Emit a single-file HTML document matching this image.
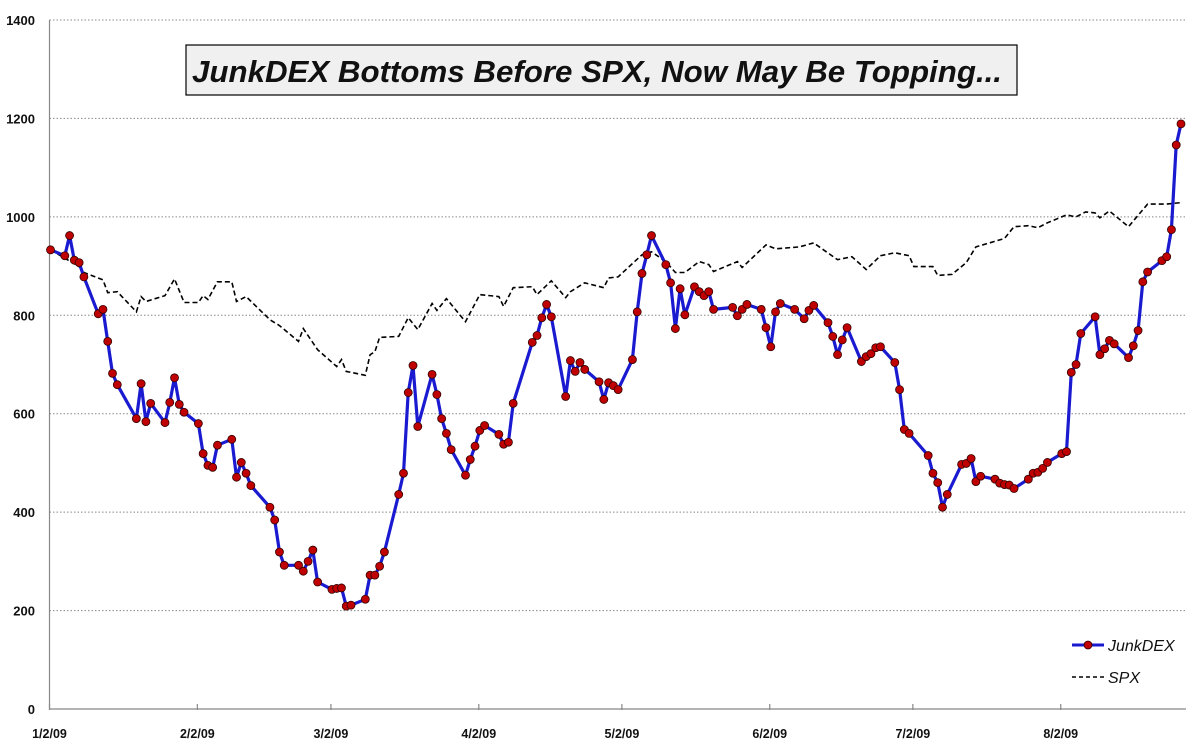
<!DOCTYPE html>
<html><head><meta charset="utf-8">
<style>
html,body{margin:0;padding:0;background:#fff;}
svg{display:block;font-family:"Liberation Sans",sans-serif;}
</style></head>
<body>
<svg id="chart" width="1194" height="745" viewBox="0 0 1194 745" xmlns="http://www.w3.org/2000/svg">
<g id="grid"></g>
<g id="yaxis"></g>
<g id="xaxis"></g>
<g id="series"></g>
<g>
<rect x="186" y="45" width="831" height="50" fill="#f0f0f0" stroke="#000" stroke-width="1.2"/>
<text x="192" y="82" textLength="810" lengthAdjust="spacingAndGlyphs" font-size="31" font-weight="bold" font-style="italic" fill="#111">JunkDEX Bottoms Before SPX, Now May Be Topping...</text>
</g>
<g>
<g>
<line x1="1072" y1="645" x2="1104" y2="645" stroke="#1a1ad0" stroke-width="3"/>
<circle cx="1088" cy="645" r="4" fill="#c00000" stroke="#300" stroke-width="0.8"/>
<text x="1108" y="651" font-size="16" font-style="italic" fill="#111">JunkDEX</text>
</g>
<g>
<line x1="1072" y1="677" x2="1104" y2="677" stroke="#000" stroke-width="1.5" stroke-dasharray="4,3"/>
<text x="1108" y="683" font-size="16" font-style="italic" fill="#111">SPX</text>
</g>
</g>
</svg>
<script>
const yTicks = [0,200,400,600,800,1000,1200,1400];
const xTickDays = [0,31,59,90,120,151,181,212];
const xTickLabels = ["1/2/09","2/2/09","3/2/09","4/2/09","5/2/09","6/2/09","7/2/09","8/2/09"];
const junkDays = [0,3,4,5,6,7,10,11,12,13,14,18,19,20,21,24,25,26,27,28,31,32,33,34,35,38,39,40,41,42,46,47,48,49,52,53,54,55,56,59,60,61,62,63,66,67,68,69,70,73,74,75,76,77,80,81,82,83,84,87,88,89,90,91,94,95,96,97,101,102,103,104,105,108,109,110,111,112,115,116,117,118,119,122,123,124,125,126,129,130,131,132,133,135,136,137,138,139,143,144,145,146,149,150,151,152,153,156,158,159,160,163,164,165,166,167,170,171,172,173,174,177,178,179,180,184,185,186,187,188,191,192,193,194,195,198,199,200,201,202,205,206,207,208,209,212,213,214,215,216,219,220,221,222,223,226,227,228,229,230,233,234,235,236,237];
const junkValues = [933,921,962,912,907,878,803,812,747,682,659,590,661,584,621,582,623,673,619,603,580,519,495,491,536,548,471,501,479,454,410,384,319,292,292,280,300,323,258,243,245,246,209,211,223,272,272,290,319,436,479,643,698,574,680,639,590,560,527,475,507,534,566,576,558,538,542,621,745,759,795,822,797,635,708,686,704,690,665,629,663,657,649,710,807,885,923,962,903,866,773,854,801,858,848,840,848,812,816,799,812,822,812,775,736,807,824,812,793,810,820,785,757,720,750,775,706,716,722,734,736,704,649,568,560,515,479,460,410,436,497,499,509,462,473,467,459,456,455,448,467,479,481,489,501,519,523,684,700,763,797,720,732,749,742,714,738,769,868,888,911,919,974,1146,1189];
const spxDays = [0,6,7,11,12,14,18,19,20,24,26,28,31,32,33,35,38,39,41,46,48,52,53,56,60,61,62,66,67,68,69,73,75,77,80,81,83,87,90,94,95,97,101,102,105,108,109,112,116,117,119,122,124,126,129,131,133,136,138,139,144,145,150,152,157,160,165,168,171,174,177,180,181,185,186,189,192,194,200,202,205,207,209,213,215,217,219,220,222,226,230,234,237];
const spxValues = [933,899,887,872,846,848,807,838,828,840,874,826,826,840,832,868,868,828,838,791,779,747,773,730,696,710,686,678,720,726,755,757,795,771,824,810,834,787,842,838,818,856,858,842,870,836,848,866,856,876,878,905,923,929,909,887,887,909,903,889,909,897,943,935,939,947,913,919,893,921,927,921,899,899,881,883,907,939,956,980,982,978,988,1004,1000,1010,1008,998,1012,980,1026,1026,1029];

const NS="http://www.w3.org/2000/svg";
const X0=50.5, KX=4.77, Y0=709, KY=(709-20)/1400;
function xs(d){return X0+d*KX;}
function ys(v){return Y0-v*KY;}
function mk(tag,attrs,parent){const e=document.createElementNS(NS,tag);for(const k in attrs)e.setAttribute(k,attrs[k]);parent.appendChild(e);return e;}
const grid=document.getElementById('grid'), yaxis=document.getElementById('yaxis'), xaxis=document.getElementById('xaxis'), series=document.getElementById('series');

yTicks.forEach(v=>{
  if(v>0){
    const g=mk('line',{x1:49.5,x2:1186,y1:ys(v),y2:ys(v),stroke:'#888','stroke-width':1,'stroke-dasharray':'1.5,2'},grid);
    
    
  }
  const t=mk('text',{x:35,y:ys(v)+5,'text-anchor':'end','font-size':13,'font-weight':'bold',fill:'#111'},yaxis);
  t.textContent=v;
  
  
});
const ya=mk('line',{x1:49.5,x2:49.5,y1:20,y2:Y0,stroke:'#888','stroke-width':1.2},yaxis);


const xa=mk('line',{x1:49.5,x2:1186,y1:Y0,y2:Y0,stroke:'#888','stroke-width':1.2},xaxis);


xTickDays.forEach((d,i)=>{
  const x=xs(d)-1;
  mk('line',{x1:x,x2:x,y1:Y0-5,y2:Y0+1,stroke:'#888','stroke-width':1.2},xaxis);
  const t=mk('text',{x:x,y:Y0+29,'text-anchor':'middle','font-size':12.5,'font-weight':'bold',fill:'#111'},xaxis);
  t.textContent=xTickLabels[i];
  
  
});

let sp=spxDays.map((d,i)=>(i?'L':'M')+xs(d).toFixed(1)+','+ys(spxValues[i]).toFixed(1)).join('');
const spx=mk('path',{d:sp,fill:'none',stroke:'#000','stroke-width':1.6,'stroke-dasharray':'5,3'},series);



let jp=junkDays.map((d,i)=>(i?'L':'M')+xs(d).toFixed(1)+','+ys(junkValues[i]).toFixed(1)).join('');
const jl=mk('path',{d:jp,fill:'none',stroke:'#1a1ad0','stroke-width':3.2,'stroke-linejoin':'round'},series);


junkDays.forEach((d,i)=>{
  const c=mk('circle',{cx:xs(d),cy:ys(junkValues[i]),r:4,fill:'#c00000',stroke:'#300','stroke-width':0.8},series);
  
  
});
</script>
</body></html>
